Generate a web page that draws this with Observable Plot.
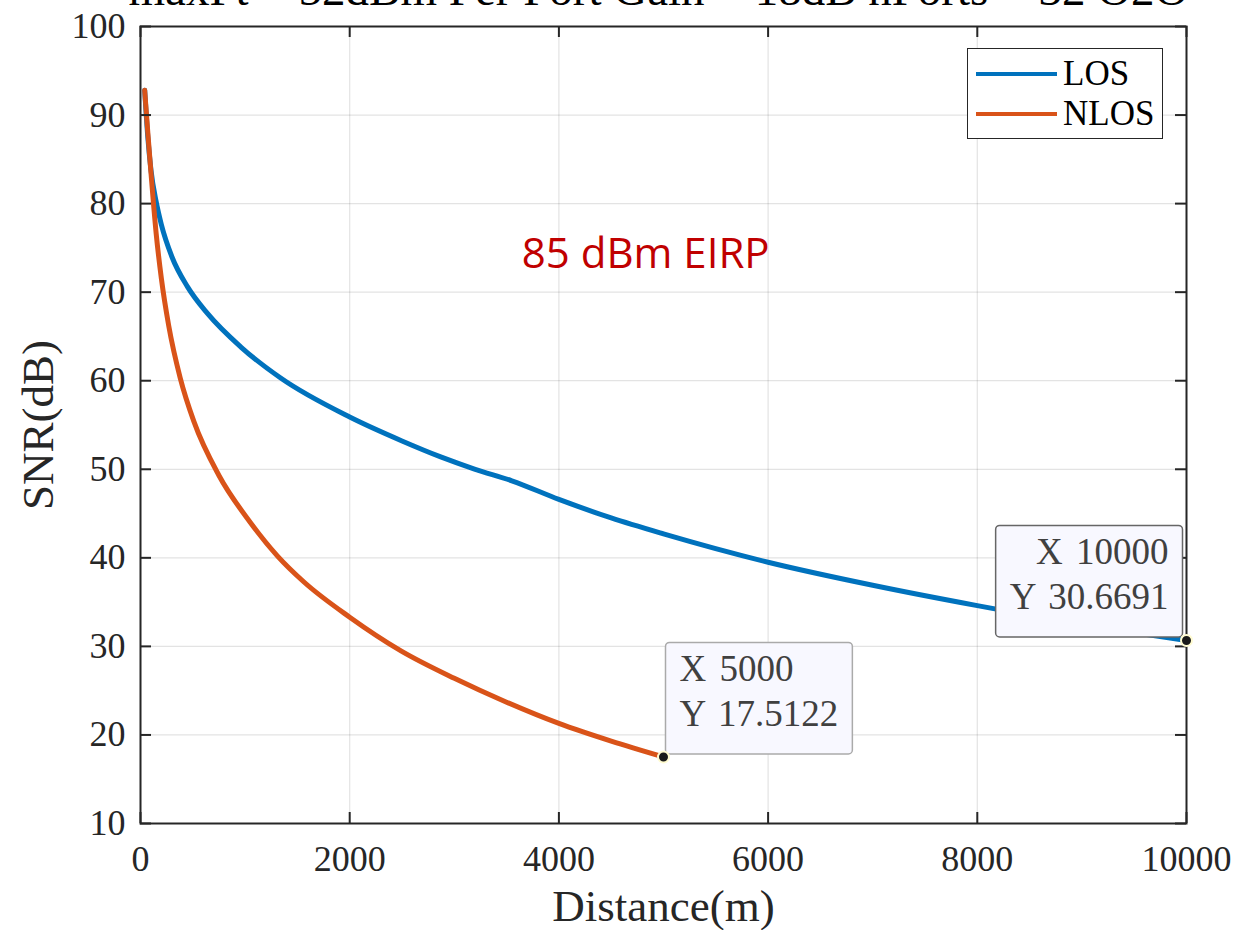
<!DOCTYPE html>
<html>
<head>
<meta charset="utf-8">
<script src="https://cdn.jsdelivr.net/npm/d3@7"></script>
<script src="https://cdn.jsdelivr.net/npm/@observablehq/plot@0.6"></script>
<style>
  html, body { margin: 0; padding: 0; background: #fff; overflow: hidden; }
  #wrap { position: relative; width: 1237px; height: 930px; }
  #title { position: absolute; left: 40px; width: 1237px; top: -34px; text-align: center;
           font-family: "Liberation Serif", serif; font-size: 47px; line-height: 47px; color: #000; white-space: nowrap; }
  #legend { position: absolute; left: 967px; top: 48px; width: 194px; height: 89px;
            border: 1.5px solid #262626; background: #fff; }
  #legend .row { position: absolute; left: 0; height: 40px; width: 194px; }
  #legend .sw { position: absolute; left: 8px; width: 81px; height: 4px; top: 18px; }
  #legend .lab { position: absolute; left: 95px; top: 0; font-family: "Liberation Serif", serif; font-size: 35px; line-height: 40px; color: #000; }
  g.dtip text { word-spacing: 4px; }
</style>
</head>
<body>
<div id="wrap">
  <div id="chart"></div>
  <div id="title"></div>
  <div id="legend"></div>
</div>
<script>
// ---- data ----
const losDist = [40, 70, 100, 150, 200, 300, 450, 640, 960, 1340, 2000, 2500, 2870, 3200, 3550, 4000, 4500, 5000, 6000, 7000, 8000, 9000, 10000];
const losSNR  = [92.8, 87.5, 83.8, 80.2, 77.6, 74.0, 70.6, 67.6, 63.8, 60.3, 55.9, 53.2, 51.4, 50.0, 48.7, 46.6, 44.5, 42.7, 39.5, 36.9, 34.6, 32.5, 30.6691];
const nlosDist = [40, 70, 100, 150, 200, 270, 380, 510, 750, 1050, 1310, 1560, 2000, 2490, 3000, 3500, 4000, 4500, 5000];
const nlosSNR  = [92.8, 88.0, 83.5, 76.6, 71.5, 66.2, 60.3, 55.4, 49.3, 44.0, 40.2, 37.3, 33.3, 29.5, 26.4, 23.7, 21.3, 19.3, 17.5122];
const seriesNames  = ["LOS", "NLOS"];
const seriesColors = ["#0072BD", "#D95319"];
const xTicks = [0, 2000, 4000, 6000, 8000, 10000];
const yTicks = [10, 20, 30, 40, 50, 60, 70, 80, 90, 100];
const tipX = [10000, 5000];
const tipY = [30.6691, 17.5122];
const tipLabels = ["X 10000\nY 30.6691", "X 5000\nY 17.5122"];
const noteText = ["85 dBm EIRP"];
const noteX = [4830];
const noteY = [74.3];
const titleText = "maxPt = 52dBm Per Port Gain = 18dB nPorts = 32 O2O";
const xLabel = "Distance(m)";
const yLabel = "SNR(dB)";

// ---- build tables ----
const los = losDist.map((d, i) => ({d, s: losSNR[i]}));
const nlos = nlosDist.map((d, i) => ({d, s: nlosSNR[i]}));
const tips = tipX.map((x, i) => ({x, y: tipY[i], t: tipLabels[i]}));
const notes = noteText.map((t, i) => ({t, x: noteX[i], y: noteY[i]}));

const W = 1237, H = 930, mL = 140, mR = 51, mT = 26, mB = 107;
const fw = W - mL - mR, fh = H - mT - mB, tl = 11;
const axisColor = "#262626";

const plot = Plot.plot({
  width: W, height: H,
  marginLeft: mL, marginRight: mR, marginTop: mT, marginBottom: mB,
  style: {fontFamily: "Liberation Serif, serif", color: axisColor, background: "#fff"},
  x: {domain: [0, 10000]},
  y: {domain: [10, 100]},
  marks: [
    Plot.gridX(xTicks, {stroke: axisColor, strokeOpacity: 0.13, strokeWidth: 1.2}),
    Plot.gridY(yTicks, {stroke: axisColor, strokeOpacity: 0.13, strokeWidth: 1.2}),
    Plot.text(notes, {x: "x", y: "y", text: "t", fill: "#C00000", fontSize: 42, fontFamily: "Open Sans, sans-serif"}),
    Plot.line(los, {x: "d", y: "s", stroke: seriesColors[0], strokeWidth: 5, curve: "monotone-x"}),
    Plot.line(nlos, {x: "d", y: "s", stroke: seriesColors[1], strokeWidth: 5, curve: "monotone-x"}),
    Plot.frame({stroke: axisColor, strokeWidth: 2}),
    Plot.tickX(xTicks, {x: d => d, stroke: axisColor, strokeWidth: 2, insetTop: fh - tl}),
    Plot.tickX(xTicks, {x: d => d, stroke: axisColor, strokeWidth: 2, insetBottom: fh - tl}),
    Plot.tickY(yTicks, {y: d => d, stroke: axisColor, strokeWidth: 2, insetRight: fw - tl}),
    Plot.tickY(yTicks, {y: d => d, stroke: axisColor, strokeWidth: 2, insetLeft: fw - tl}),
    Plot.axisX(xTicks, {tickSize: 0, tickPadding: 22, fontSize: 36, label: null, fill: axisColor, tickFormat: d => String(d)}),
    Plot.axisY(yTicks, {tickSize: 0, tickPadding: 15, fontSize: 36, label: null, fill: axisColor, tickFormat: d => String(d)}),
    Plot.text([xLabel], {frameAnchor: "bottom", textAnchor: "middle", lineAnchor: "middle", dy: 83, fontSize: 45, fill: axisColor}),
    Plot.text([yLabel], {frameAnchor: "left", textAnchor: "middle", lineAnchor: "middle", dx: -102, rotate: -90, fontSize: 45, fill: axisColor}),
    Plot.text(tips.slice(0, 1), {x: "x", y: "y", text: "t", textAnchor: "end", lineAnchor: "bottom", dx: -18, dy: -31, fontSize: 37, lineHeight: 1.23, fill: "#404040", className: "dtip"}),
    Plot.text(tips.slice(1), {x: "x", y: "y", text: "t", textAnchor: "start", lineAnchor: "bottom", dx: 16, dy: -30.5, fontSize: 37, lineHeight: 1.23, fill: "#404040", className: "dtip"}),
    Plot.dot(tips, {x: "x", y: "y", r: 5.5, fill: "#1a1a1a", stroke: "#fffbd0", strokeWidth: 2})
  ]
});
document.getElementById("chart").appendChild(plot);

// data tip boxes drawn behind each tip text (measured from the rendered text)
const borders = ["#666", "#aaa"];
plot.querySelectorAll("g.dtip").forEach((g, gi) => {
  g.querySelectorAll("text").forEach(t => {
    const b = t.getBBox();
    const r = document.createElementNS("http://www.w3.org/2000/svg", "rect");
    const px = 14, pTop = 5.5, pBot = 19.5;
    r.setAttribute("x", b.x - px);
    r.setAttribute("y", b.y - pTop);
    r.setAttribute("width", b.width + 2 * px);
    r.setAttribute("height", b.height + pTop + pBot);
    r.setAttribute("rx", 4);
    r.setAttribute("fill", "#f8f8ff");
    r.setAttribute("stroke", borders[gi]);
    r.setAttribute("stroke-width", 1.5);
    const tr = t.getAttribute("transform");
    if (tr) r.setAttribute("transform", tr);
    g.insertBefore(r, t);
  });
});

document.getElementById("title").textContent = titleText;

const leg = document.getElementById("legend");
seriesNames.forEach((n, i) => {
  const row = document.createElement("div");
  row.className = "row";
  row.style.top = (5 + i * 40) + "px";
  row.innerHTML = `<div class="sw" style="background:${seriesColors[i]}"></div><div class="lab">${n}</div>`;
  leg.appendChild(row);
});
</script>
</body>
</html>
